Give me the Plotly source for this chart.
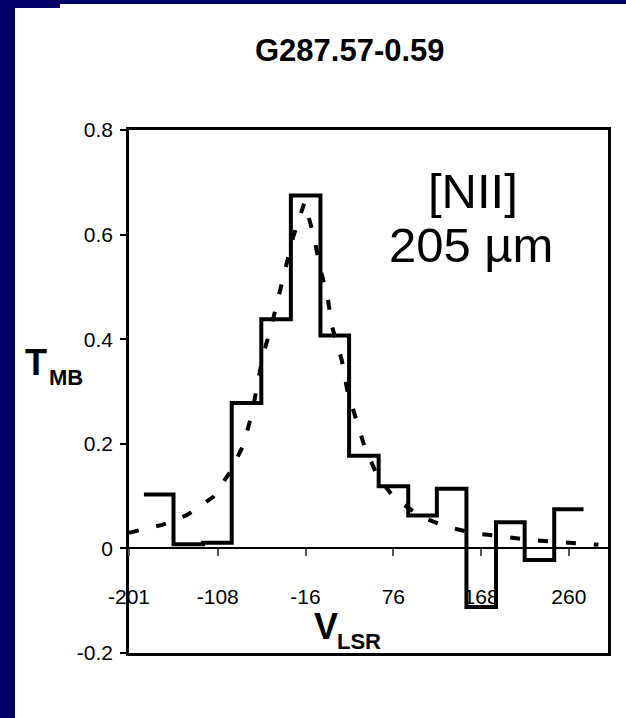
import plotly.graph_objects as go
import numpy as np

# ---- data ----
chan_v = [-170, -139, -108, -78, -47, -16, 15, 45, 76, 107, 137, 168, 199, 229, 260]
chan_t = [0.103, 0.008, 0.011, 0.278, 0.438, 0.675, 0.407, 0.177, 0.119, 0.063, 0.114, -0.112, 0.050, -0.022, 0.075]

fit_v = [-201, -166, -140, -113, -95, -81, -72, -61, -51, -43, -36, -29, -17,
         -7, -1, 7, 12, 22, 28, 37, 46, 59, 77, 106, 132, 161, 190, 221, 252, 282, 291]
fit_t = [0.030, 0.045, 0.064, 0.098, 0.146, 0.198, 0.259, 0.366, 0.431, 0.488, 0.538, 0.595, 0.662,
         0.595, 0.538, 0.481, 0.423, 0.360, 0.300, 0.249, 0.194, 0.140, 0.096, 0.060, 0.041, 0.029, 0.022, 0.016, 0.012, 0.008, 0.007]

x_tick_vals = [-201, -108, -16, 76, 168, 260]
x_tick_text = ["-201", "-108", "-16", "76", "168", "260"]
y_tick_vals = [-0.2, 0, 0.2, 0.4, 0.6, 0.8]
y_tick_text = ["-0.2", "0", "0.2", "0.4", "0.6", "0.8"]

title_text = "G287.57-0.59"
line_label = "[NII]"
wave_label = "205 \u00b5m"

# ---- geometry ----
W, H = 626, 718
L, R, T, B = 129, 18, 130, 65
PW, PH = W - L - R, H - T - B
X_RANGE = [-201, 301]
Y_RANGE = [-0.2, 0.8]

def px(x):
    return (x - L) / PW

def py(y):
    return (H - B - y) / PH

FONT = "Liberation Sans, Arial, sans-serif"
NAVY = "#000066"

# step edges computed from channel centres
width = float(np.mean(np.diff(chan_v)))
edges = [v - width / 2 for v in chan_v] + [chan_v[-1] + width / 2]
step_t = chan_t + [chan_t[-1]]

fig = go.Figure()
fig.add_trace(go.Scatter(x=fit_v, y=fit_t, mode="lines",
                         line=dict(color="black", width=4, dash="10px,18px"),
                         hoverinfo="skip", showlegend=False))
fig.add_trace(go.Scatter(x=edges, y=step_t, mode="lines", line_shape="hv",
                         line=dict(color="black", width=4),
                         hoverinfo="skip", showlegend=False))

fig.update_layout(
    width=W, height=H,
    margin=dict(l=L, r=R, t=T, b=B, pad=0),
    paper_bgcolor="white", plot_bgcolor="white",
    showlegend=False,
    xaxis=dict(range=X_RANGE, anchor="free", position=(0 - Y_RANGE[0]) / (Y_RANGE[1] - Y_RANGE[0]),
               showgrid=False, zeroline=False,
               showline=True, linecolor="black", linewidth=1.5,
               ticks="outside", ticklen=7, tickwidth=1.5, tickcolor="#555",
               tickvals=x_tick_vals, ticktext=x_tick_text,
               ticklabelstandoff=23,
               tickfont=dict(family=FONT, size=21, color="black")),
    xaxis2=dict(range=X_RANGE, overlaying="x", anchor="y", side="bottom",
                showgrid=False, zeroline=False, showticklabels=False, ticks="",
                showline=True, mirror=True, linecolor="black", linewidth=2.5),
    yaxis=dict(range=Y_RANGE, domain=[0, 1],
               showgrid=False, zeroline=False,
               showline=True, mirror=True, linecolor="black", linewidth=2.5,
               ticks="outside", ticklen=6, tickwidth=1.5, tickcolor="black",
               tickvals=y_tick_vals, ticktext=y_tick_text,
               ticklabelstandoff=3,
               tickfont=dict(family=FONT, size=21, color="black")),
)
# invisible trace on xaxis2 so the frame axis renders
fig.add_trace(go.Scatter(x=[X_RANGE[0]], y=[0], xaxis="x2", mode="markers",
                         marker=dict(size=0.1, opacity=0), hoverinfo="skip", showlegend=False))

# navy frame of the slide
fig.add_shape(type="rect", xref="paper", yref="paper", x0=px(0), x1=px(15), y0=py(H), y1=py(0),
              fillcolor=NAVY, line=dict(width=0), layer="below")
fig.add_shape(type="rect", xref="paper", yref="paper", x0=px(0), x1=px(W), y0=py(4), y1=py(0),
              fillcolor=NAVY, line=dict(width=0), layer="below")
fig.add_shape(type="rect", xref="paper", yref="paper", x0=px(0), x1=px(60), y0=py(8), y1=py(0),
              fillcolor=NAVY, line=dict(width=0), layer="below")

ann = []
ann.append(dict(text="<b>%s</b>" % title_text, x=px(350), y=py(50), xref="paper", yref="paper",
                xanchor="center", yanchor="middle", showarrow=False,
                font=dict(family=FONT, size=31, color="black")))
ann.append(dict(text=line_label, x=px(473), y=py(191), xref="paper", yref="paper",
                xanchor="center", yanchor="middle", showarrow=False,
                font=dict(family=FONT, size=49, color="black")))
ann.append(dict(text=wave_label, x=px(471), y=py(245), xref="paper", yref="paper",
                xanchor="center", yanchor="middle", showarrow=False,
                font=dict(family=FONT, size=49, color="black")))
ann.append(dict(text="<b>T</b>", x=px(23), y=py(362), xref="paper", yref="paper",
                xanchor="left", yanchor="middle", showarrow=False,
                font=dict(family=FONT, size=36, color="black")))
ann.append(dict(text="<b>MB</b>", x=px(47), y=py(377), xref="paper", yref="paper",
                xanchor="left", yanchor="middle", showarrow=False,
                font=dict(family=FONT, size=22, color="black")))
ann.append(dict(text="<b>V</b>", x=px(312), y=py(626), xref="paper", yref="paper",
                xanchor="left", yanchor="middle", showarrow=False,
                font=dict(family=FONT, size=36, color="black")))
ann.append(dict(text="<b>LSR</b>", x=px(335), y=py(641), xref="paper", yref="paper",
                xanchor="left", yanchor="middle", showarrow=False,
                font=dict(family=FONT, size=22, color="black")))
fig.update_layout(annotations=ann)

fig.write_html("out.html")
